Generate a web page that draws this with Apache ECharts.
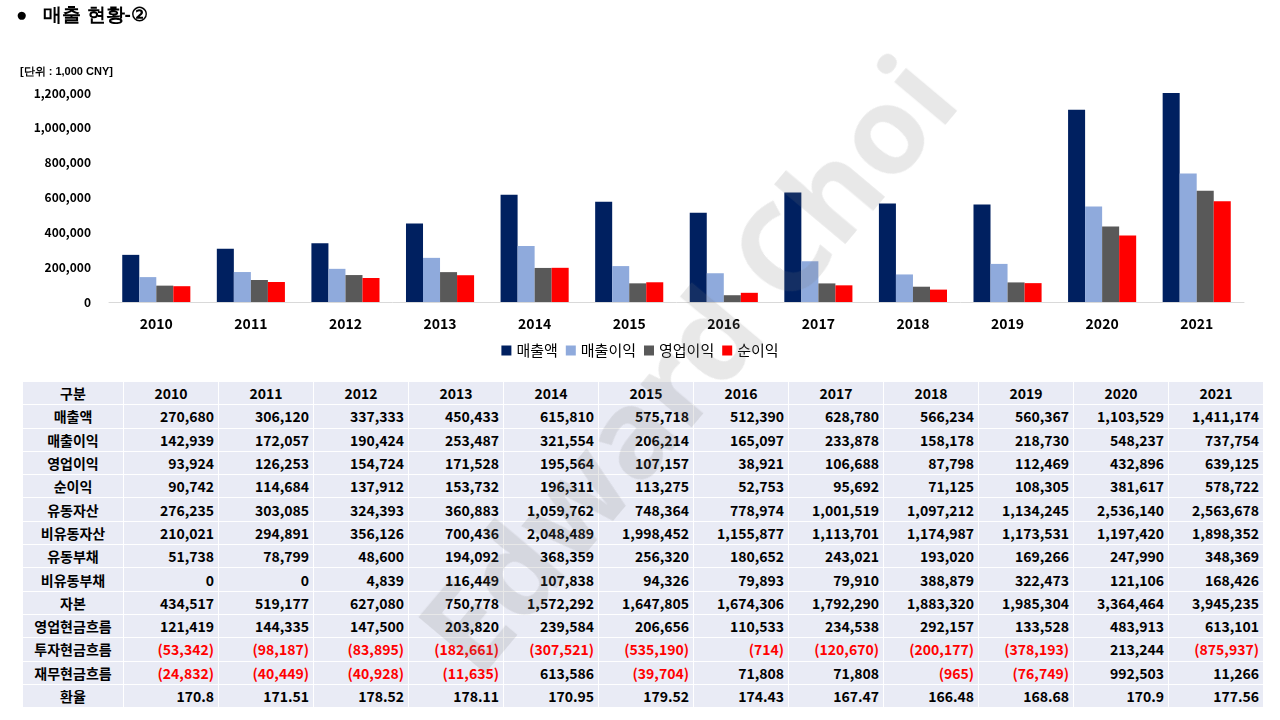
<!DOCTYPE html>
<html><head><meta charset="utf-8">
<script src="https://cdn.jsdelivr.net/npm/echarts@6/dist/echarts.min.js"></script>
<style>
body{margin:0;width:1280px;height:720px;position:relative;background:#fff;font-family:"Noto Sans CJK KR","Noto Sans",sans-serif;overflow:hidden}
#chart{position:absolute;left:0;top:0;width:1280px;height:380px}
table{position:absolute;left:22px;top:381px;border-collapse:collapse;font-size:14px;font-weight:bold;color:#000}
td{background:#e9ebf5;border:1px solid #fff;height:22.3px;padding:0 4px;text-align:right;width:86px;line-height:14px}
td:first-child{text-align:center;width:92px}
tr:first-child td{text-align:center}
.neg{color:#ff0000}
#wm{position:absolute;left:310px;top:285px;font-size:122px;font-family:"Noto Sans",sans-serif;font-weight:bold;color:rgba(120,120,120,0.17);transform:rotate(-50deg);transform-origin:center;white-space:nowrap;pointer-events:none;width:740px;text-align:center}
</style></head><body>
<div id="chart"></div>
<table id="tbl"></table>
<div id="wm">Edward Choi</div>
<script>
const years=["2010","2011","2012","2013","2014","2015","2016","2017","2018","2019","2020","2021"];
const revenue=[270680,306120,337333,450433,615810,575718,512390,628780,566234,560367,1103529,1411174];
const grossProfit=[142939,172057,190424,253487,321554,206214,165097,233878,158178,218730,548237,737754];
const opProfit=[93924,126253,154724,171528,195564,107157,38921,106688,87798,112469,432896,639125];
const netProfit=[90742,114684,137912,153732,196311,113275,52753,95692,71125,108305,381617,578722];
const currentAssets=[276235,303085,324393,360883,1059762,748364,778974,1001519,1097212,1134245,2536140,2563678];
const nonCurrentAssets=[210021,294891,356126,700436,2048489,1998452,1155877,1113701,1174987,1173531,1197420,1898352];
const currentLiab=[51738,78799,48600,194092,368359,256320,180652,243021,193020,169266,247990,348369];
const nonCurrentLiab=[0,0,4839,116449,107838,94326,79893,79910,388879,322473,121106,168426];
const equity=[434517,519177,627080,750778,1572292,1647805,1674306,1792290,1883320,1985304,3364464,3945235];
const opCF=[121419,144335,147500,203820,239584,206656,110533,234538,292157,133528,483913,613101];
const invCF=[-53342,-98187,-83895,-182661,-307521,-535190,-714,-120670,-200177,-378193,213244,-875937];
const finCF=[-24832,-40449,-40928,-11635,613586,-39704,71808,71808,-965,-76749,992503,11266];
const fxRate=["170.8","171.51","178.52","178.11","170.95","179.52","174.43","167.47","166.48","168.68","170.9","177.56"];
const rows=[["매출액",revenue],["매출이익",grossProfit],["영업이익",opProfit],["순이익",netProfit],["유동자산",currentAssets],["비유동자산",nonCurrentAssets],["유동부채",currentLiab],["비유동부채",nonCurrentLiab],["자본",equity],["영업현금흐름",opCF],["투자현금흐름",invCF],["재무현금흐름",finCF],["환율",fxRate]];
const fmt=v=>typeof v==="string"?v:(v<0?"("+Math.abs(v).toLocaleString("en-US")+")":v.toLocaleString("en-US"));
let html="<tr><td>구분</td>"+years.map(y=>"<td>"+y+"</td>").join("")+"</tr>";
rows.forEach(r=>{html+="<tr><td>"+r[0]+"</td>"+r[1].map(v=>"<td"+(typeof v==="number"&&v<0?' class="neg"':"")+">"+fmt(v)+"</td>").join("")+"</tr>";});
document.getElementById("tbl").innerHTML=html;

const c=echarts.init(document.getElementById("chart"));
const names=["매출액","매출이익","영업이익","순이익"],cols=["#002060","#8faadc","#595959","#ff0000"],data=[revenue,grossProfit,opProfit,netProfit];
c.setOption({
 animation:false,
 textStyle:{fontFamily:"Noto Sans CJK KR"},
 graphic:[
  {type:"text",left:16,top:6,style:{text:"●   매출 현황-②",fontSize:19,fontWeight:"bold",fill:"#000"}},
  {type:"text",left:20,top:66,style:{text:"[단위 : 1,000 CNY]",fontSize:11,fontWeight:"bold",fill:"#000"}}
 ],
 grid:{left:109,right:36,top:93,height:209},
 legend:{bottom:17,left:"center",itemWidth:10,itemHeight:10,itemGap:8,icon:"rect",textStyle:{fontSize:15,color:"#000"}},
 xAxis:{type:"category",data:years,axisTick:{show:false},axisLine:{lineStyle:{color:"#d9d9d9"}},axisLabel:{fontSize:14,fontWeight:"bold",color:"#000",margin:15}},
 yAxis:{type:"value",min:0,max:1200000,interval:200000,splitLine:{show:false},axisLabel:{fontSize:12,fontWeight:"bold",color:"#000",margin:18,formatter:v=>v.toLocaleString("en-US")}},
 series:names.map((n,i)=>({name:n,type:"bar",data:data[i],itemStyle:{color:cols[i]},barGap:"0%",barCategoryGap:"28%"}))
});
</script></body></html>
